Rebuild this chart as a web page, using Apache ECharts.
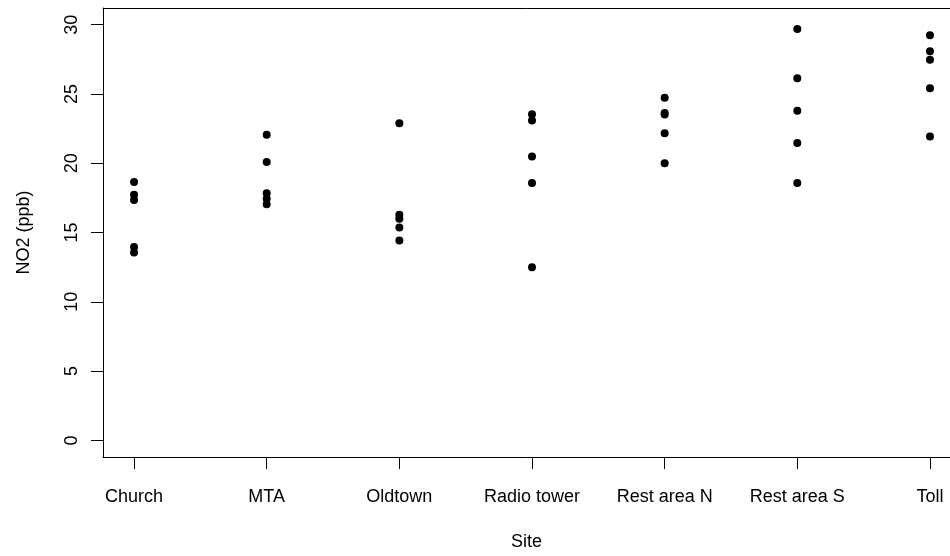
<!DOCTYPE html>
<html>
<head>
<meta charset="utf-8">
<script src="https://cdn.jsdelivr.net/npm/echarts@6/dist/echarts.min.js"></script>
<style>
  html, body { margin: 0; padding: 0; background: #fff; }
  #chart { width: 950px; height: 556px; }
</style>
</head>
<body>
<div id="chart"></div>
<script>
const sites = ['Church', 'MTA', 'Oldtown', 'Radio tower', 'Rest area N', 'Rest area S', 'Toll'];
const church = [18.65, 17.72, 17.34, 13.96, 13.55];
const mta = [22.05, 20.09, 17.84, 17.43, 17.03];
const oldtown = [22.89, 16.28, 15.99, 15.36, 14.42];
const radioTower = [23.53, 23.09, 20.49, 18.58, 12.5];
const restAreaN = [24.73, 23.62, 23.52, 22.17, 19.99];
const restAreaS = [29.68, 26.13, 23.78, 21.45, 18.58];
const toll = [29.24, 28.08, 27.46, 25.41, 21.93];
const yTicks = [0, 5, 10, 15, 20, 25, 30];

const siteValues = [church, mta, oldtown, radioTower, restAreaN, restAreaS, toll];
const sitePositions = sites.map((s, i) => i + 1);
const points = [];
siteValues.forEach((vals, i) => vals.forEach(v => points.push([i + 1, v])));

const FONT = "'Liberation Sans', Arial, sans-serif";
const XMIN = 0.766, XMAX = 7.151;
const chart = echarts.init(document.getElementById('chart'), null, { renderer: 'canvas' });
chart.setOption({
  animation: false,
  backgroundColor: '#fff',
  grid: {
    left: 103, top: 8, right: 0, bottom: 98,
    show: false
  },
  xAxis: [{
    type: 'value',
    position: 'bottom',
    min: XMIN, max: XMAX,
    name: 'Site',
    nameLocation: 'middle',
    nameGap: 76,
    nameTextStyle: { fontFamily: FONT, fontSize: 18, color: '#000' },
    axisLine: { show: true, onZero: false, lineStyle: { color: '#000', width: 1 } },
    axisTick: { show: true, customValues: sitePositions, length: 12, lineStyle: { color: '#000', width: 1 } },
    axisLabel: {
      customValues: sitePositions,
      formatter: v => sites[Math.round(v) - 1] || '',
      margin: 31, fontFamily: FONT, fontSize: 18, color: '#000'
    },
    splitLine: { show: false }
  }, {
    type: 'value',
    position: 'top',
    min: XMIN, max: XMAX,
    axisLine: { show: true, onZero: false, lineStyle: { color: '#000', width: 1 } },
    axisTick: { show: false },
    axisLabel: { show: false },
    splitLine: { show: false }
  }],
  yAxis: {
    type: 'value',
    min: -1.2, max: 31.2,
    name: 'NO2 (ppb)',
    nameLocation: 'middle',
    nameGap: 70,
    nameRotate: 90,
    nameTextStyle: { fontFamily: FONT, fontSize: 18, color: '#000' },
    axisLine: { show: true, onZero: false, lineStyle: { color: '#000', width: 1 } },
    axisTick: { show: true, customValues: yTicks, length: 12, lineStyle: { color: '#000', width: 1 } },
    axisLabel: {
      customValues: yTicks,
      rotate: 90,
      margin: 22, fontFamily: FONT, fontSize: 18, color: '#000'
    },
    splitLine: { show: false }
  },
  series: [{
    type: 'scatter',
    xAxisIndex: 0,
    data: points,
    symbol: 'circle',
    symbolSize: 8,
    itemStyle: { color: '#000', opacity: 1 }
  }]
});
</script>
</body>
</html>
